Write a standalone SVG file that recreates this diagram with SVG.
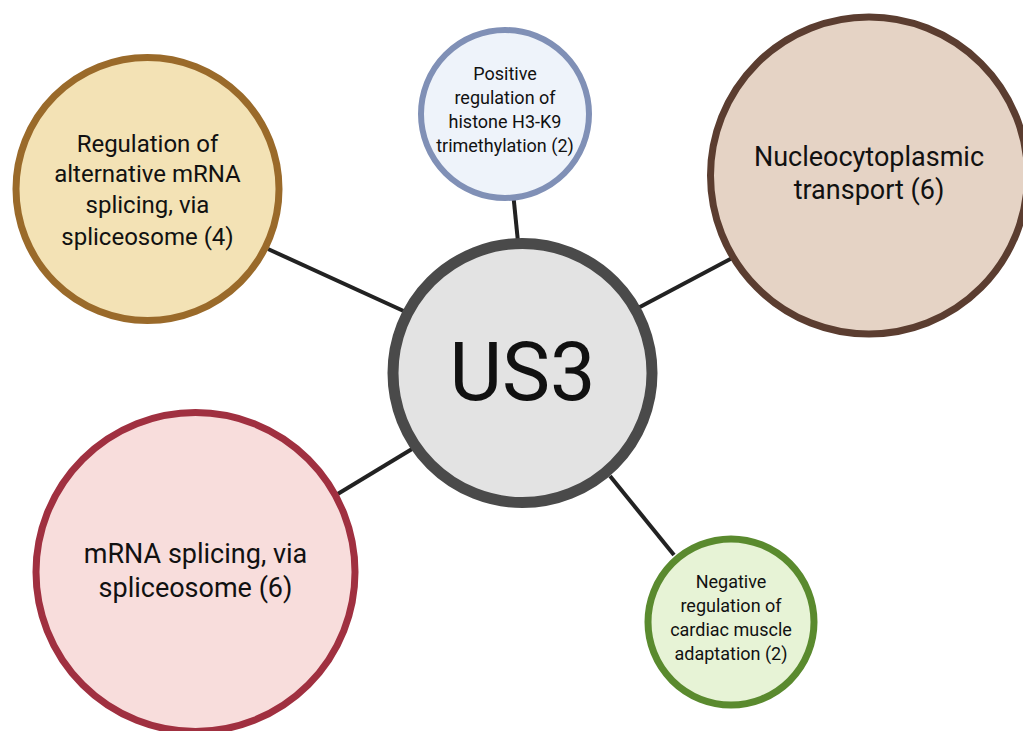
<svg xmlns="http://www.w3.org/2000/svg" width="1023" height="731" viewBox="0 0 1023 731">
<style>
.t{font-family:Roboto,"Liberation Sans",sans-serif;fill:#111;text-anchor:middle}
.s{font-size:18px}
.m{font-size:24px}
.l{font-size:27px}
.c{stroke:#222;stroke-width:4;fill:none}
</style>
<rect width="1023" height="731" fill="#ffffff"/>
<g id="connectors">
<line class="c" x1="513" y1="192" x2="518" y2="242"/>
<line class="c" x1="268" y1="249" x2="408" y2="313"/>
<line class="c" x1="736" y1="256" x2="638" y2="308"/>
<line class="c" x1="336" y1="495" x2="412" y2="449"/>
<line class="c" x1="610" y1="476" x2="674" y2="555"/>
</g>
<g id="node-us3">
<circle cx="522.5" cy="373" r="129.5" fill="#e3e3e3" stroke="#4a4a4a" stroke-width="11"/>
<text class="t" x="522.5" y="400" font-size="81">US3</text>
</g>
<g id="node-histone">
<circle cx="505" cy="114" r="84" fill="#eef3fa" stroke="#8090b6" stroke-width="6"/>
<text class="t s" x="505" y="80">Positive</text>
<text class="t s" x="505" y="104">regulation of</text>
<text class="t s" x="505" y="128">histone H3-K9</text>
<text class="t s" x="505" y="152">trimethylation (2)</text>
</g>
<g id="node-alt-splicing">
<circle cx="147.5" cy="189" r="131.5" fill="#f3e2b5" stroke="#9a6a2a" stroke-width="7"/>
<text class="t m" x="147.5" y="152">Regulation of</text>
<text class="t m" x="147.5" y="182">alternative mRNA</text>
<text class="t m" x="147.5" y="213">splicing, via</text>
<text class="t m" x="147.5" y="245">spliceosome (4)</text>
</g>
<g id="node-transport">
<circle cx="869" cy="175.5" r="158.5" fill="#e5d3c5" stroke="#5b3d30" stroke-width="7"/>
<text class="t l" x="869" y="166">Nucleocytoplasmic</text>
<text class="t l" x="869" y="199">transport (6)</text>
</g>
<g id="node-mrna-splicing">
<circle cx="195.5" cy="572" r="159.5" fill="#f8dddc" stroke="#a03040" stroke-width="7"/>
<text class="t l" x="195.5" y="563">mRNA splicing, via</text>
<text class="t l" x="195.5" y="597">spliceosome (6)</text>
</g>
<g id="node-cardiac">
<circle cx="731" cy="622" r="83" fill="#e7f3d6" stroke="#5a8a2e" stroke-width="7"/>
<text class="t s" x="731" y="588">Negative</text>
<text class="t s" x="731" y="612">regulation of</text>
<text class="t s" x="731" y="636">cardiac muscle</text>
<text class="t s" x="731" y="660">adaptation (2)</text>
</g>
</svg>
